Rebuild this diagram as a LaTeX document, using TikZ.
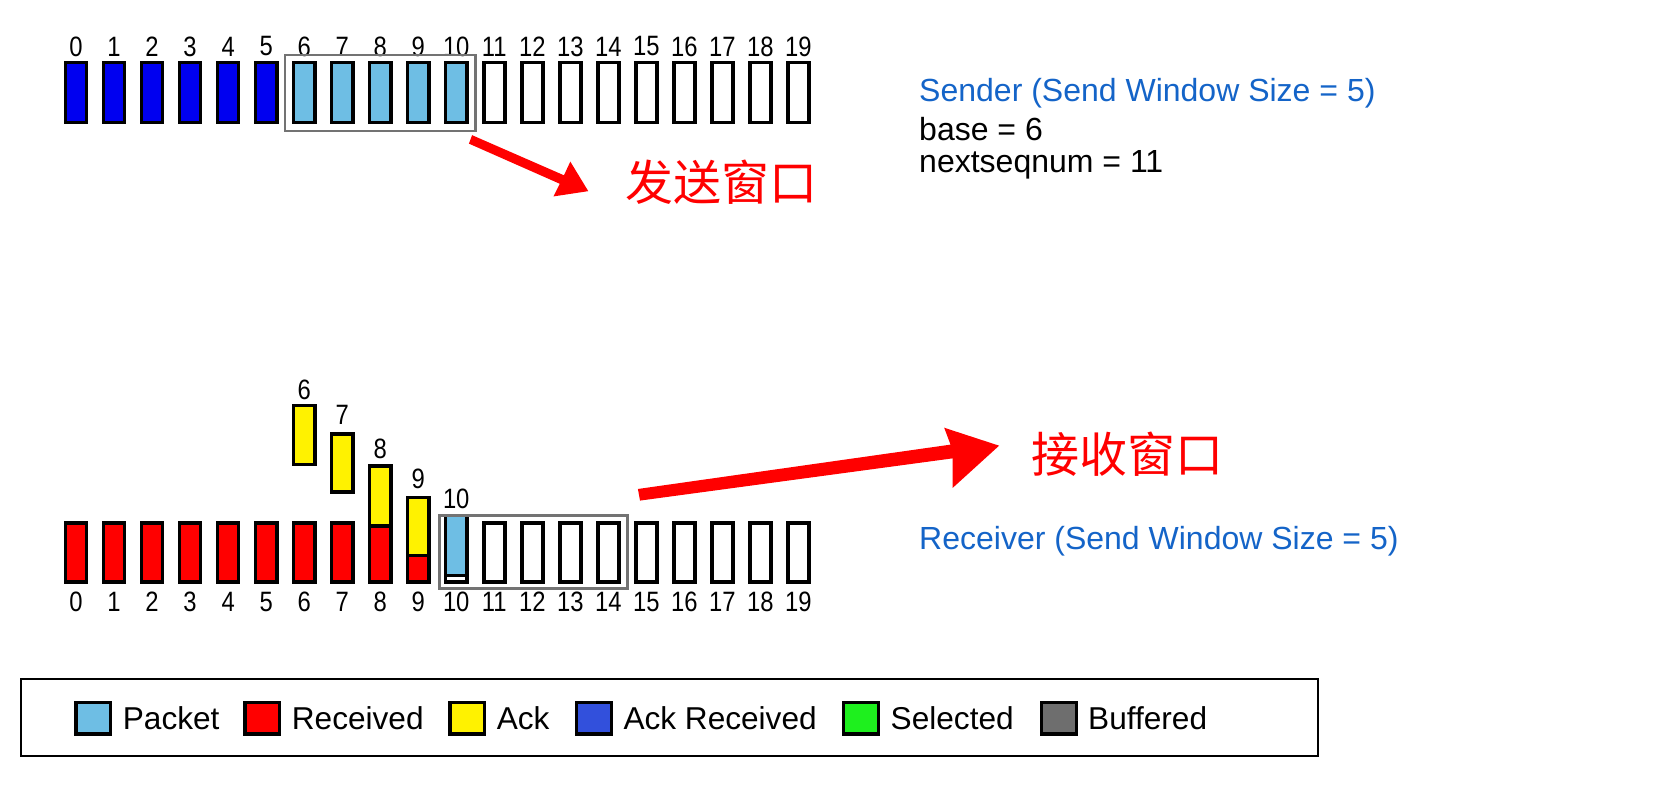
\documentclass[tikz,border=0pt]{standalone}
\usepackage{fontspec}
\setmainfont{Liberation Sans}
\newfontfamily\cjk{Noto Sans CJK SC}
\usetikzlibrary{calc}
\definecolor{pkt}{RGB}{110,190,228}
\definecolor{ackr}{RGB}{0,0,240}
\definecolor{ackrl}{RGB}{50,80,220}
\definecolor{sel}{RGB}{30,240,30}
\definecolor{buf}{RGB}{110,110,110}
\definecolor{txtblue}{RGB}{20,100,200}
\begin{document}
\begin{tikzpicture}[x=0.528pt,y=-0.528pt,
  bar/.style={draw=black,line width=1.8pt},
  win/.style={draw=black!55,line width=1.3pt},
  num/.style={font=\fontsize{14}{14}\selectfont,inner sep=0pt,xscale=0.85},
  info/.style={font=\fontsize{16}{18}\selectfont,anchor=west,inner sep=0pt},
  zh/.style={font=\cjk\fontsize{24}{24}\selectfont,text=red,inner sep=0pt},
  leg/.style={draw=black,line width=1.6pt},
  legt/.style={font=\fontsize{15.8}{16}\selectfont,anchor=west,inner sep=0pt},
  redarrow/.style={fill=red,draw=none}]
\useasboundingbox (0,0) rectangle (1568,754);
% sender
\foreach \i in {0,...,19}{
  \pgfmathsetmacro\xl{62+36*\i}
  \ifnum\i<6 \def\fc{ackr}\else\ifnum\i<11 \def\fc{pkt}\else\def\fc{white}\fi\fi
  \draw[bar,fill=\fc] (\xl,59) rectangle (\xl+20,116);
  \node[num] (s\i) at (\xl+10,44) {\i};
}
\draw[win] (270,52) rectangle (450,124);
% sender arrow
\fill[redarrow] (447,128) -- (534,166) -- (540,153) -- (557,181) -- (524,186) -- (530,174) -- (444,136) -- cycle;
\node[zh] (zh1) at (683,173) {发送窗口};
\node[info,text=txtblue] (snd) at (870,88) {Sender (Send Window Size = 5)};
\node[info] (base) at (870,122) {base = 6};
\node[info] (nsn) at (870,156) {nextseqnum = 11};
% receiver
\foreach \i in {0,...,19}{
  \pgfmathsetmacro\xl{62+36*\i}
  \ifnum\i<10 \def\fc{red}\else\def\fc{white}\fi
  \draw[bar,fill=\fc] (\xl,495) rectangle (\xl+20,551);
  \node[num] (r\i) at (\xl+10,570) {\i};
}
% acks
\draw[bar,fill=yellow] (278,384) rectangle (298,440); \node[num] (k6) at (288,369) {6};
\draw[bar,fill=yellow] (314,411) rectangle (334,466); \node[num] (k7) at (324,393) {7};
\draw[bar,fill=yellow] (350,441) rectangle (370,498); \node[num] (k8) at (360,425) {8};
\draw[bar,fill=yellow] (386,471) rectangle (406,526); \node[num] (k9) at (396,453) {9};
\draw[bar,fill=white] (422,495) rectangle (442,551);
\draw[bar,fill=pkt] (422,488) rectangle (442,545); \node[num] (k10) at (432,472) {10};
\draw[win] (416,488) rectangle (594,557);
% receiver arrow
\fill[redarrow] (604,463) -- (900,421) -- (894,405) -- (946,422) -- (902,462) -- (902,434) -- (606,474) -- cycle;
\node[zh] (zh2) at (1068,430) {接收窗口};
\node[info,text=txtblue] (rcv) at (870,512) {Receiver (Send Window Size = 5)};
% legend
\draw[line width=1pt] (20,643) rectangle (1248,716);
\foreach \x/\c/\t [count=\n] in {72/pkt/Packet,232/red/Received,426/yellow/Ack,546/ackrl/Ack Received,799/sel/Selected,986/buf/Buffered}{
  \draw[leg,fill=\c] (\x,665) rectangle (\x+33,695);
  \node[legt] (l\n) at (\x+44,680) {\t};
}
\end{tikzpicture}
\end{document}
